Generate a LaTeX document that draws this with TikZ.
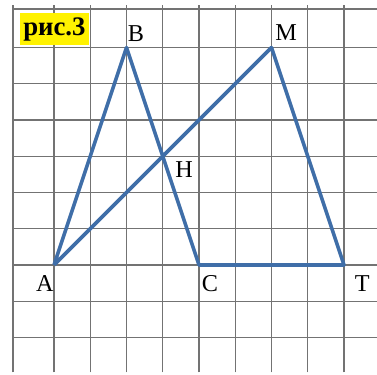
\documentclass[tikz,border=0pt]{standalone}
\usepackage{fontspec}
\setmainfont{Liberation Serif}
\tikzset{
  gridline/.style={line width=1pt, black!55},
  side/.style={line width=2.8pt, color=sideblue, line join=round},
  lbl/.style={font=\fontsize{19}{19}\selectfont, inner sep=0pt},
  tag/.style={fill=yellow, font=\bfseries\fontsize{21}{21}\selectfont, minimum width=1.9cm, minimum height=0.88cm, inner sep=0pt}
}
\definecolor{sideblue}{HTML}{3F6EA8}
\begin{document}
\begin{tikzpicture}
  \useasboundingbox (-1.49,-3.01) rectangle (8.91,7.31);
  % squared paper
  \foreach \x in {-1.13,0,1,...,8}
    \draw[gridline] (\x,-2.96) -- (\x,7.17);
  \foreach \y in {7.06,6,5,...,-2}
    \draw[gridline] (-1.13,\y) -- (8.91,\y);
  \coordinate (A) at (0,0);
  \coordinate (B) at (2,6);
  \coordinate (C) at (4,0);
  \coordinate (M) at (6,6);
  \coordinate (T) at (8,0);
  \coordinate (H) at (3,3);
  \draw[side] (A) -- (B) -- (C) -- (T) -- (M) -- (A);
  \node[lbl] (lA) at (-0.25,-0.52) {A};
  \node[lbl] (lB) at (2.26,6.37) {B};
  \node[lbl] (lC) at (4.30,-0.50) {C};
  \node[lbl] (lM) at (6.40,6.40) {M};
  \node[lbl] (lT) at (8.50,-0.50) {T};
  \node[lbl] (lH) at (3.59,2.62) {H};
  \node[tag] (fig) at (0.01,6.51) {рис.3};
\end{tikzpicture}
\end{document}
